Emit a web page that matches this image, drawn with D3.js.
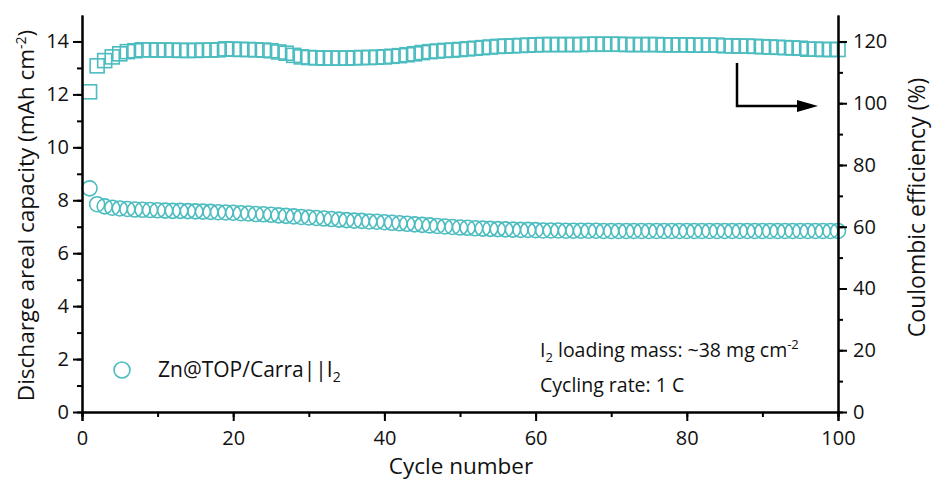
<!DOCTYPE html>
<html><head><meta charset="utf-8">
<script src="https://cdn.jsdelivr.net/npm/d3@7"></script>
<style>body{margin:0;background:#fff}svg{display:block}text{font-family:"Open Sans",Lato,sans-serif;fill:#111}</style>
</head><body>
<svg id="c" width="934" height="483"></svg>
<script>
const cycles = d3.range(1, 101);
const capacity = [
8.45,7.85,7.77,7.72,7.69,7.67,7.65,7.64,7.63,7.62,
7.61,7.60,7.60,7.59,7.58,7.57,7.56,7.55,7.54,7.53,
7.51,7.50,7.48,7.47,7.45,7.43,7.41,7.39,7.37,7.35,
7.33,7.31,7.29,7.27,7.25,7.23,7.22,7.20,7.19,7.17,
7.15,7.13,7.11,7.09,7.07,7.05,7.03,7.01,6.99,6.97,
6.96,6.94,6.93,6.92,6.91,6.90,6.89,6.88,6.88,6.87,
6.86,6.86,6.86,6.85,6.85,6.85,6.85,6.85,6.84,6.84,
6.84,6.84,6.84,6.84,6.84,6.84,6.84,6.84,6.84,6.84,
6.84,6.84,6.84,6.84,6.84,6.84,6.84,6.84,6.84,6.84,
6.84,6.84,6.84,6.84,6.84,6.84,6.84,6.84,6.84,6.84];
const efficiency = [
103.7,112.1,113.8,115.0,116.0,116.7,117.0,117.3,117.3,117.2,
117.2,117.2,117.1,117.1,117.1,117.2,117.2,117.3,117.6,117.5,
117.4,117.4,117.3,117.2,117.0,116.6,116.2,115.5,115.0,114.8,
114.7,114.6,114.6,114.6,114.6,114.7,114.8,114.8,114.9,115.0,
115.2,115.4,115.7,116.0,116.4,116.7,116.9,117.1,117.2,117.4,
117.6,117.8,118.0,118.2,118.4,118.5,118.6,118.7,118.8,118.9,
119.0,119.0,119.0,119.0,119.0,119.0,119.1,119.1,119.1,119.1,
119.1,119.0,119.0,119.0,119.0,119.0,118.9,118.9,118.9,118.9,
118.8,118.8,118.8,118.8,118.6,118.6,118.5,118.5,118.4,118.3,
118.2,118.1,118.0,117.9,117.8,117.5,117.5,117.4,117.4,117.4];
const xTicks = [0,20,40,60,80,100];
const yLeftTicks = [0,2,4,6,8,10,12,14];
const yRightTicks = [0,20,40,60,80,100,120];
const legendLabel = "Zn@TOP/Carra||I";
const color = "#4bbcbf";

const svg = d3.select("#c");
const L = 82, R = 838, T = 15, B = 412;
const x = d3.scaleLinear().domain([0,100]).range([L,R]);
const yL = d3.scaleLinear().domain([0,15]).range([B,T]);
const yR = d3.scaleLinear().domain([0,15*120/14]).range([B,T]);

// data
const g = svg.append("g");
g.selectAll("rect.ce").data(cycles).join("rect").attr("class","ce")
  .attr("x", d => x(d)-7).attr("y", (d,i) => yR(efficiency[i])-7)
  .attr("width",14).attr("height",14)
  .attr("fill","none").attr("stroke",color).attr("stroke-width",1.6);
g.selectAll("circle.cap").data(cycles).join("circle").attr("class","cap")
  .attr("cx", d => x(d)).attr("cy", (d,i) => yL(capacity[i])).attr("r",7.5)
  .attr("fill","none").attr("stroke",color).attr("stroke-width",1.6);

// axes
function styleAxis(sel){
  sel.selectAll(".domain").attr("stroke","#000").attr("stroke-width",2);
  sel.selectAll(".tick line").attr("stroke","#000").attr("stroke-width",2);
  sel.selectAll(".tick text").style("font-size","20px").attr("fill","#111");
}
const axX = svg.append("g").attr("transform",`translate(0,${B})`)
  .call(d3.axisBottom(x).tickValues(d3.range(0,101,10)).tickSize(5).tickFormat(""));
styleAxis(axX);
const axX2 = svg.append("g").attr("transform",`translate(0,${B})`)
  .call(d3.axisBottom(x).tickValues(xTicks).tickSize(9).tickPadding(6).tickFormat(d3.format("d")));
styleAxis(axX2);
axX2.selectAll(".tick text").attr("dy","0.9em");

const axL = svg.append("g").attr("transform",`translate(${L},0)`)
  .call(d3.axisLeft(yL).tickValues(d3.range(0,15,1)).tickSize(5).tickFormat("").tickSizeOuter(0));
styleAxis(axL);
const axL2 = svg.append("g").attr("transform",`translate(${L},0)`)
  .call(d3.axisLeft(yL).tickValues(yLeftTicks).tickSize(9).tickPadding(4).tickSizeOuter(0));
styleAxis(axL2);

const axR = svg.append("g").attr("transform",`translate(${R},0)`)
  .call(d3.axisRight(yR).tickValues(d3.range(0,121,10)).tickSize(5).tickFormat("").tickSizeOuter(0));
styleAxis(axR);
const axR2 = svg.append("g").attr("transform",`translate(${R},0)`)
  .call(d3.axisRight(yR).tickValues(yRightTicks).tickSize(9).tickPadding(6).tickSizeOuter(0));
styleAxis(axR2);

// titles
svg.append("text").attr("x",461).attr("y",474).attr("text-anchor","middle")
  .style("font-size","22.5px").text("Cycle number");
const tl = svg.append("text").attr("transform",`translate(34,${(T+B)/2 + 2}) rotate(-90)`)
  .attr("text-anchor","middle").style("font-size","22.5px");
tl.append("tspan").text("Discharge areal capacity (mAh cm");
tl.append("tspan").attr("dy","-8").style("font-size","14px").text("-2");
tl.append("tspan").attr("dy","8").text(")");
svg.append("text").attr("transform",`translate(925,${(T+B)/2 - 6}) rotate(-90)`)
  .attr("text-anchor","middle").style("font-size","23px").text("Coulombic efficiency (%)");

// legend
svg.append("circle").attr("cx",122).attr("cy",370).attr("r",8)
  .attr("fill","none").attr("stroke",color).attr("stroke-width",1.6);
const lt = svg.append("text").attr("x",158).attr("y",377).style("font-size","21px");
lt.append("tspan").text(legendLabel);
lt.append("tspan").attr("dy","5").style("font-size","14px").text("2");

// annotations
const a1 = svg.append("text").attr("x",540).attr("y",357).style("font-size","19.5px");
a1.append("tspan").text("I");
a1.append("tspan").attr("dy","5").style("font-size","13px").text("2");
a1.append("tspan").attr("dy","-5").text(" loading mass: ~38 mg cm");
a1.append("tspan").attr("dy","-8").style("font-size","13px").text("-2");
svg.append("text").attr("x",540).attr("y",392).style("font-size","19.5px").text("Cycling rate: 1 C");

// arrow
svg.append("path").attr("d","M737,63 V106 H800").attr("fill","none").attr("stroke","#000").attr("stroke-width",2.5);
svg.append("path").attr("d","M797,100 L818,106 L797,112 Z").attr("fill","#000");
</script>
</body></html>
